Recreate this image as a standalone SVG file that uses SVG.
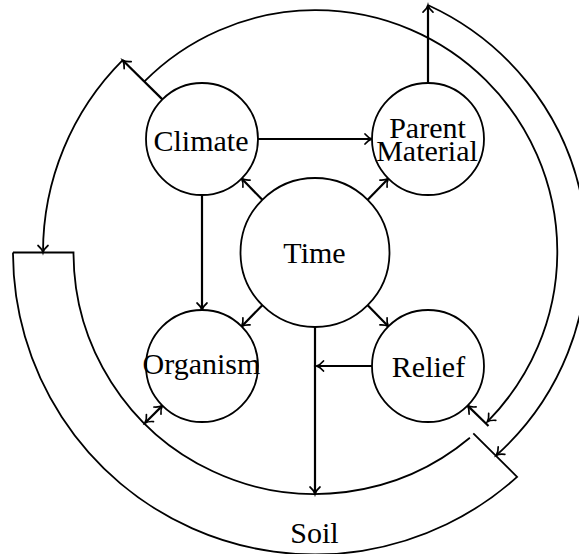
<svg xmlns="http://www.w3.org/2000/svg" width="579" height="554" viewBox="0 0 579 554">
<style>
.node{fill:#fff;stroke:#000;stroke-width:1.8}
.line{fill:none;stroke:#000;stroke-width:1.8}
.arr{fill:none;stroke:#000;stroke-width:2.2}
.lbl{font-family:"Liberation Serif","DejaVu Serif",serif;font-size:30px;text-anchor:middle;fill:#000}
</style>
<defs>
<marker id="ah" viewBox="-9 -7 11 14" refX="0" refY="0" markerWidth="11" markerHeight="14" markerUnits="userSpaceOnUse" orient="auto-start-reverse" overflow="visible">
<path d="M-7,-5 C-4.8,-2.4 -2.2,-0.6 0,0 C-2.2,0.6 -4.8,2.4 -7,5" fill="none" stroke="#000" stroke-width="1.7" stroke-linecap="round"/>
</marker>
</defs>
<g id="soil">
<path class="line" d="M13,252.5 H73.5 A241.5,241.5 0 0 0 469.9,437.8"/>
<path class="line" d="M13,252.5 A302,302 0 0 0 517.1,476.9 L473.3,433.3"/>
<text class="lbl" x="314.5" y="543.3">Soil</text>
</g>
<g id="connectors">
<path class="line" d="M144.2,81.7 A241.5,241.5 0 0 1 487.3,421.8" marker-end="url(#ah)"/>
<path class="arr" d="M162.4,99.4 L122.7,60.2" marker-end="url(#ah)"/>
<path class="line" d="M122.7,60.2 A272,272 0 0 0 43,252.5" marker-end="url(#ah)"/>
<path class="arr" d="M428,83 V5.2" marker-end="url(#ah)"/>
<path class="line" d="M428.3,5.2 A272,272 0 0 1 496.3,455.3" marker-end="url(#ah)"/>
<path class="arr" d="M258,139 H372" marker-end="url(#ah)"/>
<path class="arr" d="M202,195 V310" marker-end="url(#ah)"/>
<path class="arr" d="M262.3,199.8 L241.6,178.6" marker-end="url(#ah)"/>
<path class="arr" d="M367.7,199.8 L388.4,178.6" marker-end="url(#ah)"/>
<path class="arr" d="M262.3,305.2 L241.6,326.4" marker-end="url(#ah)"/>
<path class="arr" d="M367.7,305.2 L388.4,326.4" marker-end="url(#ah)"/>
<path class="arr" d="M315,327 V494" marker-end="url(#ah)"/>
<path class="arr" d="M372,366 H316.5" marker-end="url(#ah)"/>
<path class="arr" d="M162.4,405.6 L145,423" marker-start="url(#ah)" marker-end="url(#ah)"/>
<path class="arr" d="M488.5,426 L467.6,405.6" marker-end="url(#ah)"/>
</g>
<g id="climate">
<circle class="node" cx="202" cy="139" r="56"/>
<text class="lbl" x="201" y="150.7">Climate</text>
</g>
<g id="parent-material">
<circle class="node" cx="428" cy="139" r="56"/>
<text class="lbl"><tspan x="427.5" y="137.7">Parent</tspan><tspan x="427" y="160.7">Material</tspan></text>
</g>
<g id="time">
<circle class="node" cx="315" cy="252.5" r="74.5"/>
<text class="lbl" x="314.5" y="262.7">Time</text>
</g>
<g id="organism">
<circle class="node" cx="202" cy="366" r="56"/>
<text class="lbl" x="201.5" y="373.5">Organism</text>
</g>
<g id="relief">
<circle class="node" cx="428" cy="366" r="56"/>
<text class="lbl" x="428.5" y="376.6">Relief</text>
</g>
</svg>
